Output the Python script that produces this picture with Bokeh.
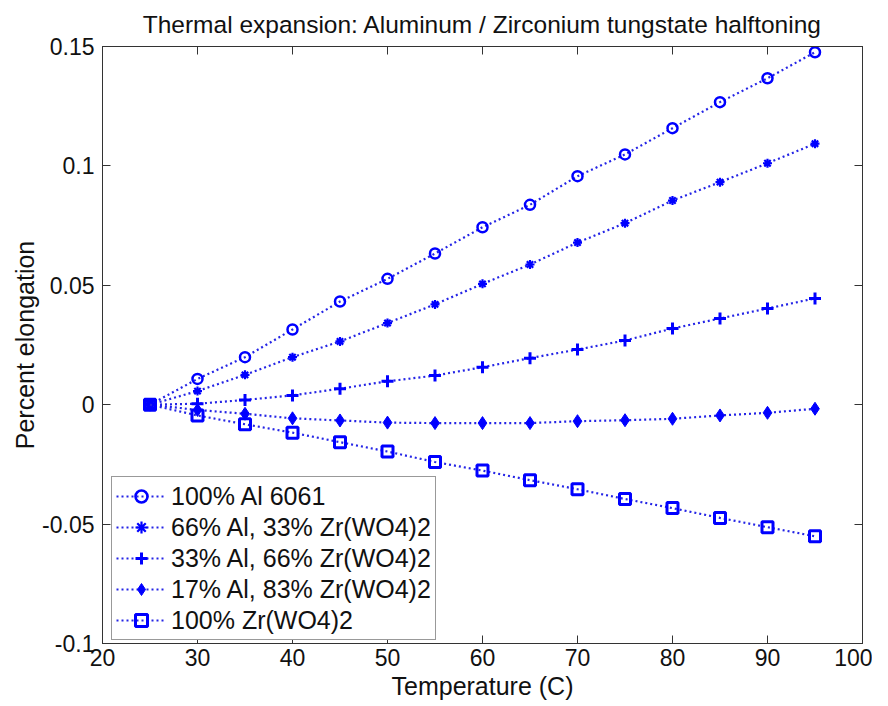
from bokeh.plotting import figure
from bokeh.models import Range1d, LinearAxis, FixedTicker, Legend, LegendItem, Spacer
from bokeh.layouts import row
from bokeh.embed import file_html
from bokeh.resources import INLINE

# ---- data ----
temperature = [25, 30, 35, 40, 45, 50, 55, 60, 65, 70, 75, 80, 85, 90, 95]
al_6061 = [0.0, 0.0108, 0.0199, 0.0315, 0.0432, 0.0527, 0.0633, 0.0743, 0.0837,
           0.0957, 0.1048, 0.1158, 0.1267, 0.1367, 0.1476]
al66_zr33 = [0.0, 0.0057, 0.0125, 0.0199, 0.0265, 0.0342, 0.0420, 0.0506, 0.0587,
             0.0679, 0.0760, 0.0855, 0.0932, 0.1011, 0.1093]
al33_zr66 = [0.0, 0.0004, 0.0020, 0.0039, 0.0067, 0.0098, 0.0122, 0.0157, 0.0195,
             0.0231, 0.0269, 0.0319, 0.0361, 0.0403, 0.0445]
al17_zr83 = [0.0, -0.0022, -0.0038, -0.0057, -0.0066, -0.0075, -0.0077, -0.0077,
             -0.0077, -0.0069, -0.0065, -0.0059, -0.0045, -0.0034, -0.0017]
zr_100 = [0.0, -0.0045, -0.0082, -0.0117, -0.0157, -0.0196, -0.0240, -0.0276,
          -0.0316, -0.0354, -0.0395, -0.0433, -0.0474, -0.0513, -0.0551]

series_labels = ["100% Al 6061", "66% Al, 33% Zr(WO4)2", "33% Al, 66% Zr(WO4)2",
                 "17% Al, 83% Zr(WO4)2", "100% Zr(WO4)2"]
x_ticks = [20, 30, 40, 50, 60, 70, 80, 90, 100]
y_ticks = [-0.1, -0.05, 0.0, 0.05, 0.1, 0.15]
y_tick_labels = ["-0.1", "-0.05", "0", "0.05", "0.1", "0.15"]

title_text = "Thermal expansion: Aluminum / Zirconium tungstate halftoning"
x_label = "Temperature (C)"
y_label = "Percent elongation"

FONT = "Liberation Sans"
AX = "#333333"
TXT = "#111111"
BLUE = "#0000ff"
LINE_BLUE = "#2424e6"

p = figure(frame_width=760, frame_height=597,
           x_range=Range1d(20, 100), y_range=Range1d(-0.1, 0.15),
           output_backend="svg", toolbar_location=None,
           min_border_left=0, min_border_right=10,
           min_border_top=0, min_border_bottom=0,
           title=title_text)

p.title.align = "center"
p.title.text_font = FONT
p.title.text_font_size = "24.5px"
p.title.text_font_style = "normal"
p.title.text_color = TXT
p.title.standoff = 17

p.xgrid.visible = False
p.ygrid.visible = False
p.outline_line_color = AX
p.outline_line_width = 1
p.background_fill_color = "white"
p.border_fill_color = "white"

ylab_over = {v: s for v, s in zip(y_ticks, y_tick_labels)}

def style_axis(ax, ticks, labels=True):
    ax.ticker = FixedTicker(ticks=ticks)
    ax.major_tick_in = 8
    ax.major_tick_out = 0
    ax.minor_tick_in = 0
    ax.minor_tick_out = 0
    ax.axis_line_color = AX
    ax.major_tick_line_color = AX
    ax.major_label_text_font = FONT
    if labels:
        ax.major_label_text_font_size = "23px"
        ax.major_label_text_color = TXT
    else:
        ax.major_label_text_font_size = "1px"
        ax.major_label_text_color = None
        ax.major_label_standoff = 0

xa = p.xaxis[0]
ya = p.yaxis[0]
style_axis(xa, x_ticks)
style_axis(ya, y_ticks)
xa.major_label_standoff = 5
ya.major_label_standoff = 8
ya.major_label_overrides = ylab_over
xa.axis_label = x_label
ya.axis_label = y_label
for ax in (xa, ya):
    ax.axis_label_text_font = FONT
    ax.axis_label_text_font_size = "25px"
    ax.axis_label_text_font_style = "normal"
    ax.axis_label_text_color = TXT
xa.axis_label_standoff = 3
ya.axis_label_standoff = 0

top_ax = LinearAxis()
right_ax = LinearAxis()
style_axis(top_ax, x_ticks, labels=False)
style_axis(right_ax, y_ticks, labels=False)
p.add_layout(top_ax, "above")
p.add_layout(right_ax, "right")

series = [al_6061, al66_zr33, al33_zr66, al17_zr83, zr_100]
markers = [
    dict(marker="circle", size=10, fill_color=None, line_width=2.5),
    dict(marker="asterisk", size=9, fill_color=BLUE, line_width=2.2),
    dict(marker="cross", size=12, fill_color=None, line_width=3),
    dict(marker="diamond", size=13, fill_color=BLUE, line_width=1),
    dict(marker="square", size=11, fill_color=None, line_width=3),
]

items = []
for ys, lab, mk in zip(series, series_labels, markers):
    lr = p.line(temperature, ys, line_color=LINE_BLUE, line_width=2.2,
                line_dash="2 3")
    sr = p.scatter(temperature, ys, line_color=BLUE, **mk)
    items.append(LegendItem(label=lab, renderers=[lr, sr]))

legend = Legend(items=items, location=(9, 3), margin=0, padding=4,
                spacing=1, label_height=30, glyph_height=30, glyph_width=50,
                label_standoff=5, label_text_font=FONT,
                label_text_font_size="25px", label_text_color=TXT,
                border_line_color=AX, border_line_width=1,
                background_fill_color="white", background_fill_alpha=1.0)
p.add_layout(legend)

page = row(Spacer(width=8, height=10), p)

open("out.html", "w").write(file_html(page, INLINE))
